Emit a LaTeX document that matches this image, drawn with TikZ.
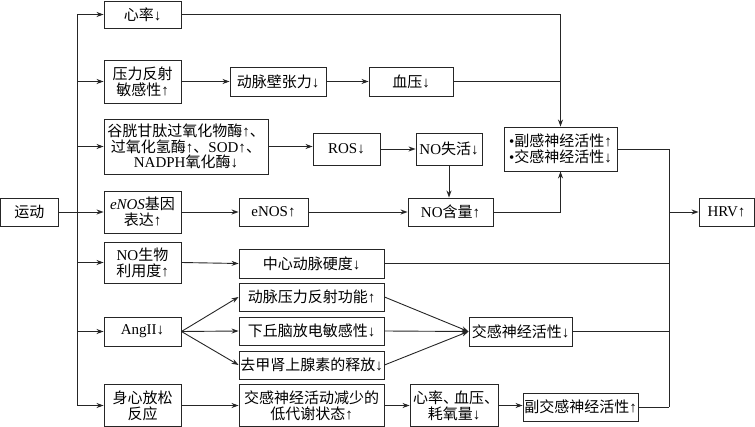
\documentclass[tikz,border=0pt]{standalone}
\usepackage{fontspec}
\setmainfont{Liberation Serif}
\newfontfamily\cjk{Noto Sans CJK SC}
\usetikzlibrary{arrows.meta}
\XeTeXinterchartokenstate=1
\newXeTeXintercharclass\CJKcls
\newcount\mycnt
\mycnt="3000
\loop\XeTeXcharclass\mycnt=\CJKcls \ifnum\mycnt<"303F \advance\mycnt by 1 \repeat
\mycnt="4E00
\loop\XeTeXcharclass\mycnt=\CJKcls \ifnum\mycnt<"9FFF \advance\mycnt by 1 \repeat
\mycnt="FF00
\loop\XeTeXcharclass\mycnt=\CJKcls \ifnum\mycnt<"FFEF \advance\mycnt by 1 \repeat
\XeTeXinterchartoks 0 \CJKcls = {\begingroup\cjk}
\XeTeXinterchartoks 4095 \CJKcls = {\begingroup\cjk}
\XeTeXinterchartoks \CJKcls 0 = {\endgroup}
\XeTeXinterchartoks \CJKcls 4095 = {\endgroup}
\begin{document}
\begin{tikzpicture}[x=1pt,y=-1pt,
  box/.style={draw=black!85,line width=0.9pt,inner sep=0pt,align=center,
    font=\fontsize{15}{15.8}\selectfont},
  ln/.style={draw=black!85,line width=0.9pt},
  arr/.style={ln,-{Stealth[length=7pt,width=5pt]}}]
\useasboundingbox (0,0) rectangle (755,427);
% left column
\node[box,minimum width=57.5,minimum height=28] (yd) at (29.25,212) {运动};
\node[box,minimum width=77,minimum height=27] (xl) at (142.5,14.5) {心率↓};
\node[box,minimum width=77,minimum height=43] (yl) at (142.5,81.5) {压力反射\\敏感性↑};
\node[box,minimum width=164,minimum height=55] (gg) at (186,146.5) {谷胱甘肽过氧化物酶↑、\\过氧化氢酶↑、SOD↑、\\NADPH氧化酶↓};
\node[box,minimum width=77,minimum height=42] (eg) at (142.5,212) {\textit{eNOS}基因\\表达↑};
\node[box,minimum width=77,minimum height=41] (nw) at (142.5,262.5) {NO生物\\利用度↑};
\node[box,minimum width=77,minimum height=29] (ang) at (142.5,331.5) {AngII↓};
\node[box,minimum width=77,minimum height=42] (sx) at (142.5,405.5) {身心放松\\反应};
% second column
\node[box,minimum width=96,minimum height=29] (dm) at (278,81.5) {动脉壁张力↓};
\node[box,minimum width=84,minimum height=29] (xy) at (411,81.5) {血压↓};
\node[box,minimum width=67,minimum height=32] (ros) at (346.5,149) {ROS↓};
\node[box,minimum width=66,minimum height=32] (ns) at (449,149) {NO失活↓};
\node[box,minimum width=113,minimum height=44] (fg) at (560.5,149) {•副感神经活性↑\\•交感神经活性↓};
\node[box,minimum width=69,minimum height=28] (en) at (273.5,212) {eNOS↑};
\node[box,minimum width=85,minimum height=28] (nh) at (450.5,212) {NO含量↑};
\node[box,minimum width=55,minimum height=28] (hrv) at (726.5,212) {HRV↑};
\node[box,minimum width=145,minimum height=29] (zx) at (311.5,263.5) {中心动脉硬度↓};
\node[box,minimum width=145,minimum height=28] (dy) at (311.5,297) {动脉压力反射功能↑};
\node[box,minimum width=145,minimum height=28] (xq) at (311.5,331) {下丘脑放电敏感性↓};
\node[box,minimum width=145,minimum height=28] (qj) at (311.5,365) {去甲肾上腺素的释放↓};
\node[box,minimum width=103,minimum height=29] (jg) at (520.5,331.5) {交感神经活性↓};
\node[box,minimum width=145,minimum height=42] (jd) at (311.5,405.5) {交感神经活动减少的\\低代谢状态↑};
\node[box,minimum width=88,minimum height=42] (x2) at (454,405.5) {心率、\kern-4pt血压、\kern-4pt\\耗氧量↓};
\node[box,minimum width=115,minimum height=28] (fj) at (580.5,407) {副交感神经活性↑};
% trunk
\coordinate (tr) at (77,0);
\coordinate (cb) at (669,0);
\draw[ln] (yd.east) -- (yd.east -| tr);
\draw[ln] (xl.west -| tr) -- (sx.west -| tr);
\foreach \b in {xl,yl,gg,eg,nw,ang,sx}{\draw[arr] (\b.west -| tr) -- (\b.west);}
% row links
\draw[arr] (xl.east) -| (fg.north);
\draw[arr] (yl.east) -- (dm.west);
\draw[arr] (dm.east) -- (xy.west);
\draw[ln] (xy.east) -- (xy.east -| fg.north);
\draw[arr] (gg.east) -- (gg.east -| ros.west);
\draw[arr] (ros.east) -- (ns.west);
\draw[arr] (ns.south) -- (ns.south |- nh.north);
\draw[arr] (eg.east) -- (en.west);
\draw[arr] (en.east) -- (nh.west);
\draw[arr] (nh.east) -| (fg.south);
\draw[ln] (fg.east) -| (fj.east -| cb);
\draw[ln] (fj.east) -- (fj.east -| cb);
\draw[ln] (zx.east) -- (zx.east -| cb);
\draw[ln] (jg.east) -- (jg.east -| cb);
\draw[arr] (hrv.west -| cb) -- (hrv.west);
\draw[arr] (nw.east) -- (zx.west);
\draw[arr] (ang.east) -- (dy.west);
\draw[arr] (ang.east) -- (xq.west);
\draw[arr] (ang.east) -- (qj.west);
\draw[arr] (dy.east) -- (jg.west);
\draw[arr] (xq.east) -- (jg.west);
\draw[arr] (qj.east) -- (jg.west);
\draw[arr] (sx.east) -- (jd.west);
\draw[arr] (jd.east) -- (x2.west);
\draw[arr] (x2.east) -- (x2.east -| fj.west);
\end{tikzpicture}
\end{document}
